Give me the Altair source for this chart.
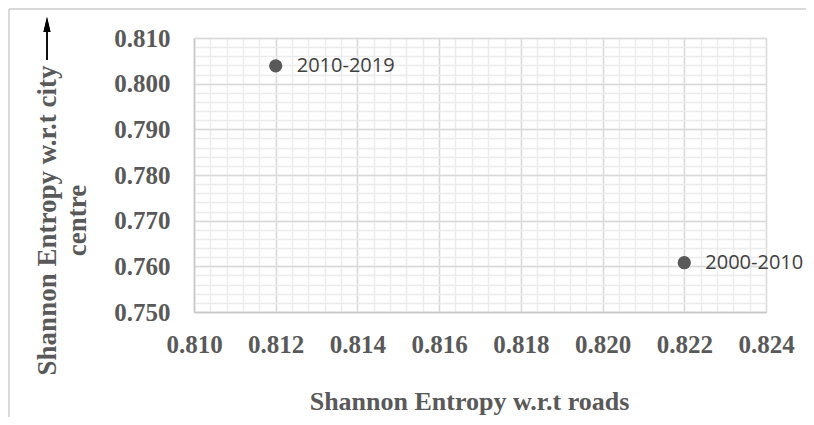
import altair as alt
import pandas as pd

# data
periods = ["2000-2010", "2010-2019"]
entropy_roads = [0.822, 0.812]
entropy_centre = [0.7608, 0.8039]

x_major = [0.810, 0.812, 0.814, 0.816, 0.818, 0.820, 0.822, 0.824]
y_major = [0.750, 0.760, 0.770, 0.780, 0.790, 0.800, 0.810]
x_minor = [round(0.810 + i * 0.0004, 4) for i in range(36)]
y_minor = [round(0.750 + i * 0.002, 3) for i in range(31)]

df = pd.DataFrame({"period": periods, "roads": entropy_roads, "centre": entropy_centre})

W, H = 572, 274
SERIF = "Liberation Serif"
GREY = "#595959"

xs = alt.Scale(domain=[0.810, 0.824], nice=False, zero=False)
ys = alt.Scale(domain=[0.750, 0.810], nice=False, zero=False)

minor = alt.Chart(df).mark_point(opacity=0).encode(
    x=alt.X("roads:Q", scale=xs, axis=alt.Axis(
        values=x_minor, grid=True, gridColor="#ececec", gridWidth=1.5,
        labels=False, ticks=False, domain=False, title=None, orient="bottom")),
    y=alt.Y("centre:Q", scale=ys, axis=alt.Axis(
        values=y_minor, grid=True, gridColor="#ececec", gridWidth=1.5,
        labels=False, ticks=False, domain=False, title=None, orient="left")),
)

points = alt.Chart(df).mark_circle(size=177, opacity=1, color=GREY).encode(
    x=alt.X("roads:Q", scale=xs, axis=alt.Axis(
        values=x_major, format=".3f", grid=True, gridColor="#d9d9d9", gridWidth=1.3,
        ticks=False, domain=True, domainColor="#c8c8c8", domainWidth=1.5,
        labelFont=SERIF, labelFontWeight="bold", labelFontSize=25, labelColor=GREY,
        labelPadding=20, labelFlush=False, labelOverlap=False,
        title="Shannon Entropy w.r.t roads", titleFont=SERIF, titleFontWeight="bold",
        titleFontSize=26, titleColor=GREY, titleX=275, titleY=97,
        titleAlign="center", titleBaseline="alphabetic", orient="bottom")),
    y=alt.Y("centre:Q", scale=ys, axis=alt.Axis(
        values=y_major, format=".3f", grid=True, gridColor="#d9d9d9", gridWidth=1.3,
        ticks=False, domain=True, domainColor="#c8c8c8", domainWidth=1.5,
        labelFont=SERIF, labelFontWeight="bold", labelFontSize=25, labelColor=GREY,
        labelPadding=24, labelFlush=False, labelOverlap=False,
        title=["Shannon Entropy w.r.t city", "centre"], titleFont=SERIF,
        titleFontWeight="bold", titleFontSize=27, titleColor=GREY, titleAngle=270,
        titleX=-139, titleY=182, titleAlign="center", titleBaseline="alphabetic",
        titleLineHeight=30, orient="left")),
)

labels = alt.Chart(df).mark_text(
    align="left", baseline="middle", dx=21, font="Open Sans", fontSize=20, color="#404040"
).encode(
    x=alt.X("roads:Q", scale=xs, axis=None),
    y=alt.Y("centre:Q", scale=ys, axis=None),
    text="period:N",
)

# decorations: outer border and axis arrow
border_top = alt.Chart(df).mark_rule(color="#d9d9d9", strokeWidth=2).encode(
    x=alt.value(-185), x2=alt.value(640), y=alt.value(-29))
border_left = alt.Chart(df).mark_rule(color="#d9d9d9", strokeWidth=2).encode(
    x=alt.value(-185), y=alt.value(-29), y2=alt.value(400))
arrow_line = alt.Chart(df).mark_rule(color="black", strokeWidth=1.5).encode(
    x=alt.value(-147), y=alt.value(-8), y2=alt.value(22))
arrow_head = alt.Chart(df).mark_point(
    shape="M0,-1L0.47,1L-0.47,1Z", filled=True, color="black", opacity=1, size=225
).encode(x=alt.value(-147), y=alt.value(-13.5))

chart = alt.layer(
    minor, points, labels, border_top, border_left, arrow_line, arrow_head
).resolve_axis(x="independent", y="independent").properties(
    width=W, height=H,
    autosize=alt.AutoSizeParams(type="none"),
    padding={"left": 186, "top": 30, "right": 40, "bottom": 105},
).configure_view(stroke=None).configure(background="white")

chart.save("out.html", embed_options={"renderer": "svg", "actions": False})
